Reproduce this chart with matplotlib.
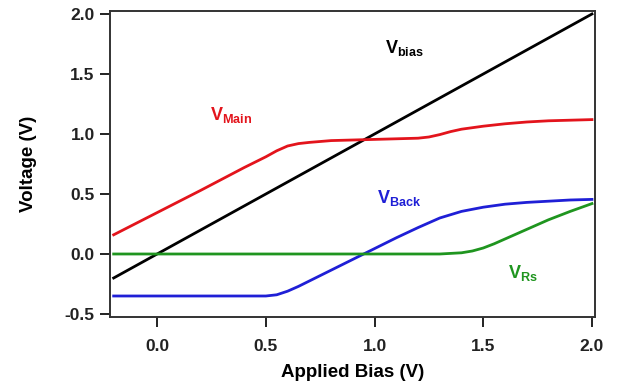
import matplotlib
matplotlib.use("Agg")
import matplotlib.pyplot as plt

plt.rcParams['font.family'] = ['Liberation Sans', 'DejaVu Sans']
plt.rcParams['font.weight'] = 'bold'
plt.rcParams['mathtext.fontset'] = 'custom'
plt.rcParams['mathtext.rm'] = 'Liberation Sans:bold'
plt.rcParams['mathtext.bf'] = 'Liberation Sans:bold'
plt.rcParams['mathtext.it'] = 'Liberation Sans:bold'

# Data
bias_x = [-0.2, 2.0]
bias_y = [-0.2, 2.0]

main_x = [-0.2, 0.0, 0.2, 0.4, 0.5, 0.55, 0.6, 0.65, 0.7, 0.8, 1.0, 1.2, 1.25, 1.3, 1.35, 1.4, 1.5, 1.6, 1.7, 1.8, 1.9, 2.0]
main_y = [0.16, 0.345, 0.53, 0.72, 0.81, 0.86, 0.90, 0.92, 0.93, 0.945, 0.955, 0.965, 0.975, 0.995, 1.02, 1.04, 1.065, 1.085, 1.10, 1.11, 1.115, 1.12]

back_x = [-0.2, 0.0, 0.2, 0.4, 0.5, 0.55, 0.6, 0.65, 0.7, 0.8, 0.9, 1.0, 1.1, 1.2, 1.25, 1.3, 1.4, 1.5, 1.6, 1.7, 1.8, 1.9, 2.0]
back_y = [-0.35, -0.35, -0.35, -0.35, -0.35, -0.34, -0.31, -0.27, -0.225, -0.135, -0.045, 0.045, 0.135, 0.22, 0.26, 0.30, 0.355, 0.39, 0.415, 0.43, 0.44, 0.45, 0.455]

rs_x = [-0.2, 0.5, 1.0, 1.3, 1.35, 1.4, 1.45, 1.5, 1.55, 1.6, 1.7, 1.8, 1.9, 2.0]
rs_y = [0.0, 0.0, 0.0, 0.0, 0.005, 0.01, 0.025, 0.05, 0.085, 0.125, 0.205, 0.285, 0.355, 0.42]

x_ticks = [0.0, 0.5, 1.0, 1.5, 2.0]
y_ticks = [-0.5, 0.0, 0.5, 1.0, 1.5, 2.0]

red = '#e3141c'
blue = '#1f1fd6'
green = '#1f951f'

fig = plt.figure(figsize=(6.22, 3.90), dpi=100)
ax = fig.add_axes([0.1768, 0.1872, 0.7798, 0.7846])

lw = 2.0
ax.plot(bias_x, bias_y, color='black', lw=lw)
ax.plot(main_x, main_y, color=red, lw=lw)
ax.plot(back_x, back_y, color=blue, lw=lw)
ax.plot(rs_x, rs_y, color=green, lw=lw)

ax.set_xlim(-0.217, 2.014)
ax.set_ylim(-0.525, 2.025)
ax.set_xticks(x_ticks)
ax.set_yticks(y_ticks)
ax.set_xticklabels([f"{v:.1f}" for v in x_ticks])
ax.set_yticklabels([f"{v:.1f}" for v in y_ticks])
ax.tick_params(direction='out', length=7, width=1.4, labelsize=12.5, colors='#222222')
ax.tick_params(axis='y', pad=4)
ax.tick_params(axis='x', pad=9)
for s in ax.spines.values():
    s.set_linewidth(1.4)
    s.set_color('#333333')

ax.set_xlabel('Applied Bias (V)', fontsize=13.5, fontweight='bold', labelpad=7)
ax.set_ylabel('Voltage (V)', fontsize=13.5, fontweight='bold', labelpad=20)

fs = 13
ax.text(1.05, 1.72, r'V$_{\mathrm{bias}}$', color='black', fontsize=fs, va='center', ha='left')
ax.text(0.245, 1.16, r'V$_{\mathrm{Main}}$', color=red, fontsize=fs, va='center', ha='left')
ax.text(1.01, 0.47, r'V$_{\mathrm{Back}}$', color=blue, fontsize=fs, va='center', ha='left')
ax.text(1.615, -0.16, r'V$_{\mathrm{Rs}}$', color=green, fontsize=fs, va='center', ha='left')

fig.savefig('out.png', dpi=100)
